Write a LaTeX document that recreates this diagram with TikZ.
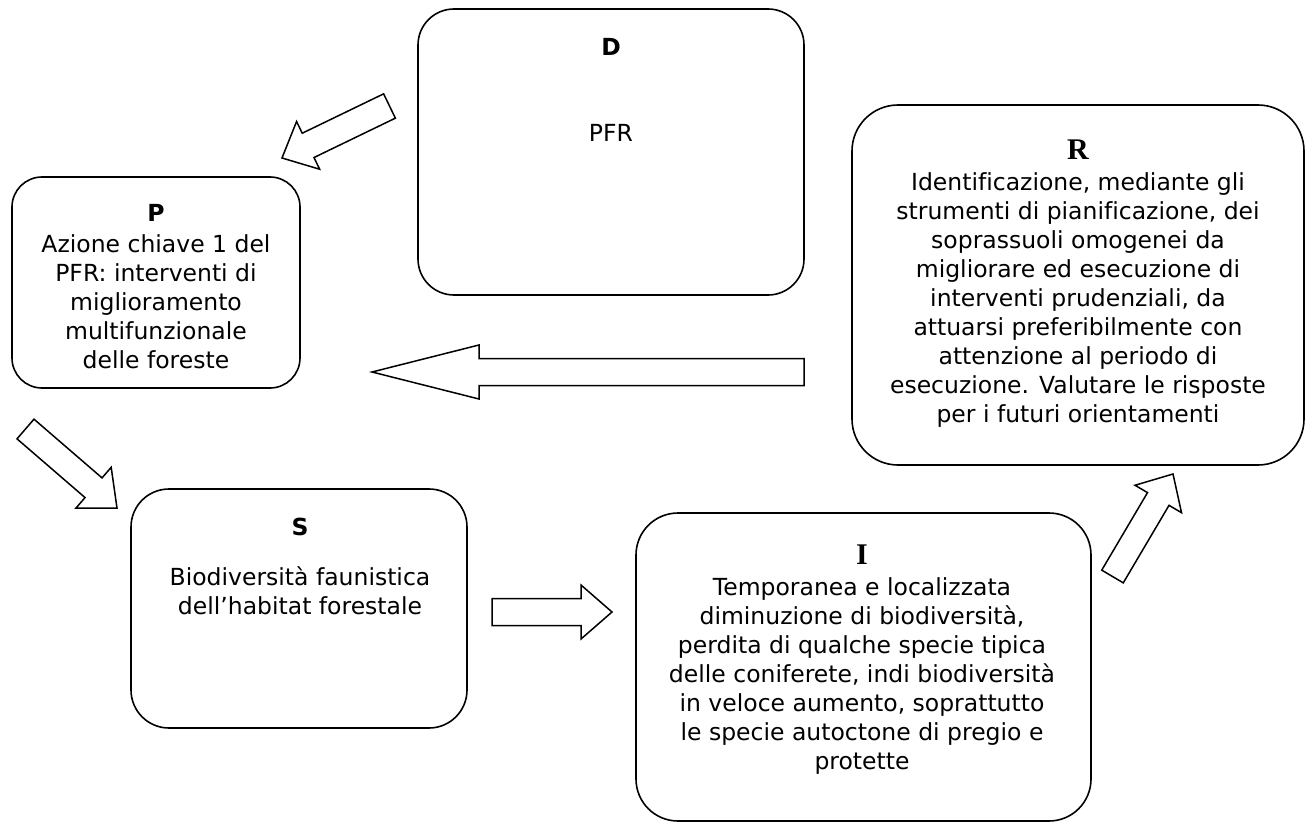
\documentclass[tikz,border=0pt]{standalone}
\usepackage{fontspec}
\setmainfont{DejaVu Sans}[Ligatures=NoCommon]
\newfontfamily\titleserif{Liberation Serif}
\usetikzlibrary{calc}

% hollow block arrow from tail centre #1 to tip #2:
% shaft half width #3, head half width #4, head length #5
\newcommand{\blockarrow}[5]{%
  \coordinate (hb) at ($(#2)!#5!(#1)$);
  \draw[blk] ($(#1)!#3!90:(#2)$) -- ($(hb)!#3!90:(#2)$) -- ($(hb)!#4!90:(#2)$)
    -- (#2) -- ($(hb)!#4!-90:(#2)$) -- ($(hb)!#3!-90:(#2)$)
    -- ($(#1)!#3!-90:(#2)$) -- cycle;
}

\tikzset{
  box/.style={draw, line width=1.6pt, rounded corners=#1, inner sep=0pt},
  body/.style={align=center, inner sep=0pt, anchor=north,
    font=\fontsize{23.5}{29}\selectfont},
  sanstitle/.style={inner sep=0pt, font=\fontsize{23.5}{29}\selectfont\bfseries},
  seriftitle/.style={inner sep=0pt, font=\fontsize{30}{29}\titleserif\bfseries},
  blk/.style={draw, line width=1.5pt, line join=miter, fill=white},
}

\begin{document}
\begin{tikzpicture}[x=1pt, y=-1pt]
  \useasboundingbox (0,0) rectangle (1314,824);

  % the five boxes
  \node[box=36pt, minimum width=386pt, minimum height=286pt] (D) at (611,152) {};
  \node[box=30pt, minimum width=288pt, minimum height=211pt] (P) at (156,282.5) {};
  \node[box=46pt, minimum width=452pt, minimum height=360pt] (R) at (1078,285) {};
  \node[box=38pt, minimum width=336pt, minimum height=239pt] (S) at (299,608.5) {};
  \node[box=42pt, minimum width=455pt, minimum height=308pt] (I) at (863.5,667) {};

  % titles
  \node[sanstitle] (tD) at (611,47) {D};
  \node[sanstitle] (tP) at (156,213) {P};
  \node[seriftitle] (tR) at (1078,150) {R};
  \node[sanstitle] (tS) at (300,527) {S};
  \node[seriftitle] (tI) at (862,555) {I};

  % texts
  \node[body] (bD) at (611,124) {PFR};
  \node[body] (bP) at (156,234) {Azione chiave 1 del\\PFR: interventi di\\miglioramento\\multifunzionale\\delle foreste};
  \node[body] (bR) at (1078,172) {Identificazione, mediante gli\\strumenti di pianificazione, dei\\soprassuoli omogenei da\\migliorare ed esecuzione di\\interventi prudenziali, da\\attuarsi preferibilmente con\\attenzione al periodo di\\esecuzione. Valutare le risposte\\per i futuri orientamenti};
  \node[body] (bS) at (300,566) {Biodiversità faunistica\\dell’habitat forestale};
  \node[body] (bI) at (862,577) {Temporanea e localizzata\\diminuzione di biodiversità,\\perdita di qualche specie tipica\\delle coniferete, indi biodiversità\\in veloce aumento, soprattutto\\le specie autoctone di pregio e\\protette};

  % arrow ends
  \coordinate (a1t) at (389.5,106);  \coordinate (a1h) at (282,158);
  \coordinate (a2t) at (804,372);    \coordinate (a2h) at (372,372);
  \coordinate (a3t) at (25.5,429);   \coordinate (a3h) at (117,508);
  \coordinate (a4t) at (492,612);    \coordinate (a4h) at (612,612);
  \coordinate (a5t) at (1112.5,576.5); \coordinate (a5h) at (1173,474);

  \blockarrow{a1t}{a1h}{13.5pt}{26.5pt}{29pt}
  \blockarrow{a2t}{a2h}{13.5pt}{27pt}{107pt}
  \blockarrow{a3t}{a3h}{13pt}{27pt}{31pt}
  \blockarrow{a4t}{a4h}{13.5pt}{27pt}{31pt}
  \blockarrow{a5t}{a5h}{12.5pt}{27pt}{29pt}
\end{tikzpicture}
\end{document}
